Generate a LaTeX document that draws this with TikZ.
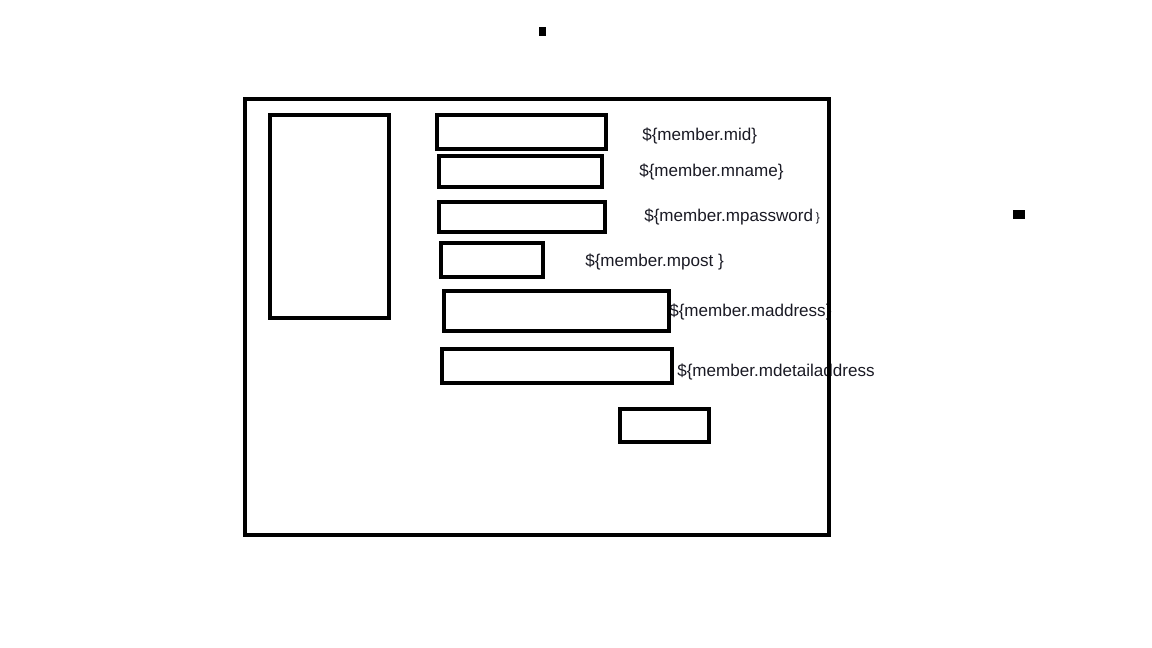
\documentclass[tikz,border=0pt]{standalone}
\usepackage{fontspec}
\setmainfont{Liberation Sans}
\usetikzlibrary{positioning}
\definecolor{inkblack}{HTML}{000000}
\definecolor{labelink}{HTML}{1A1A24}

\tikzset{
  frame/.style={draw=inkblack,line width=3pt},
  field/.style={draw=inkblack,line width=3pt,inner sep=0pt},
  binding/.style={anchor=west,inner sep=0pt,text=labelink,font=\fontsize{12.8}{14}\selectfont}
}

\begin{document}
\begin{tikzpicture}[x=0.75pt,y=-0.75pt]
    \useasboundingbox (0,0) rectangle (1152,648);
    % bound values
    \node[binding] (mid) at (642,135.5) {\$\{member.mid\}};
    \node[binding] (mname) at (639,171.5) {\$\{member.mname\}};
    \node[binding] (mpassword) at (644,216.5) {\$\{member.mpassword\,{\fontsize{9}{10}\selectfont\}}};
    \node[binding] (mpost) at (585,261.5) {\$\{member.mpost \}};
    \node[binding] (maddress) at (669,311.5) {\$\{member.maddress\}};
    \node[binding] (mdetail) at (677,371.5) {\$\{member.mdetailaddress};
    % form outline
    \draw[frame] (245,99) rectangle (829,535);
    \draw[frame] (270,115) rectangle (389,318);
    % input fields
    \draw[field] (437,115) rectangle (606,149);
    \draw[field] (439,156) rectangle (602,187);
    \draw[field] (439,202) rectangle (605,232);
    \draw[field] (441,243) rectangle (543,277);
    \draw[field] (444,291) rectangle (669,331);
    \draw[field] (442,349) rectangle (672,383);
    \draw[field] (620,409) rectangle (709,442);
    % stray marks
    \fill[inkblack] (539,27) rectangle (546,36);
    \fill[inkblack] (1013,210) rectangle (1025,219);
\end{tikzpicture}
\end{document}
